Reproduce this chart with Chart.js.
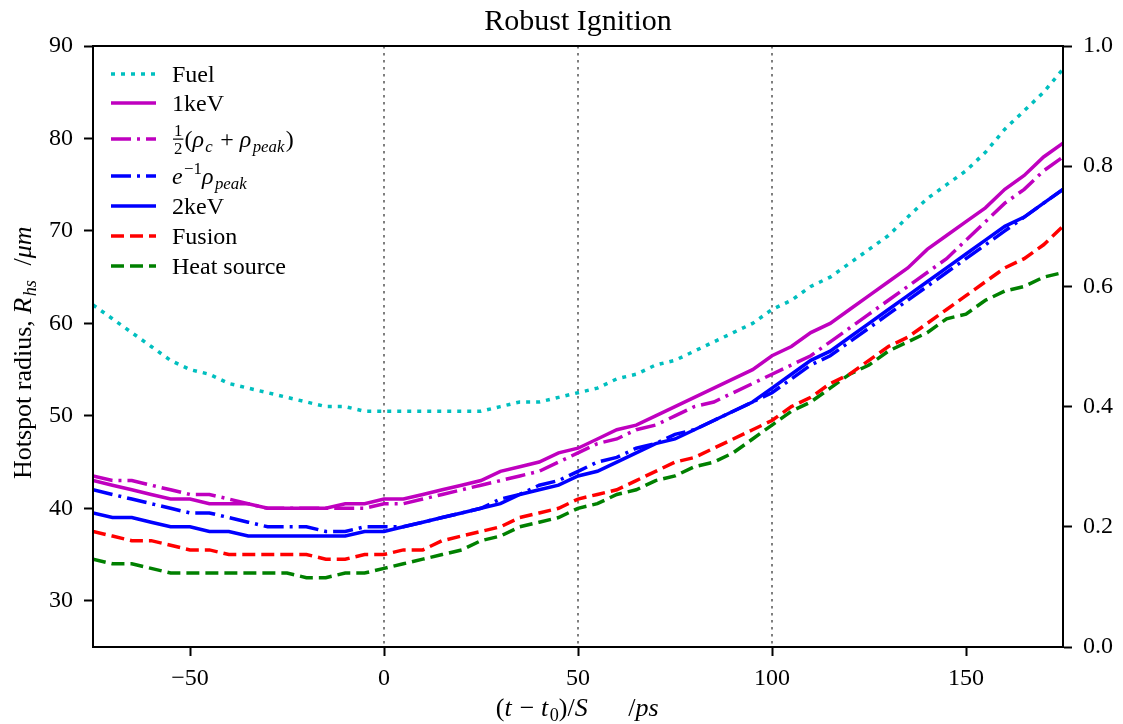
<!DOCTYPE html>
<html>
<head>
<meta charset="utf-8">
<script src="https://cdn.jsdelivr.net/npm/chart.js@4.4.1/dist/chart.umd.min.js"></script>
<style>
  html, body { margin: 0; padding: 0; background: #fff; }
  canvas { display: block; }
</style>
</head>
<body>
<canvas id="chart" width="1123" height="724"></canvas>
<script>
// time axis, (t - t0)/S in ps
const times = [-75, -70, -65, -60, -55, -50, -45, -40, -35, -30, -25, -20, -15, -10, -5,
  0, 5, 10, 15, 20, 25, 30, 35, 40, 45, 50, 55, 60, 65, 70, 75, 80, 85, 90, 95,
  100, 105, 110, 115, 120, 125, 130, 135, 140, 145, 150, 155, 160, 165, 170, 175];

const fuel = [62, 60.5, 59, 57.5, 56, 55, 54.5, 53.5, 53, 52.5, 52, 51.5, 51, 51, 50.5,
  50.5, 50.5, 50.5, 50.5, 50.5, 50.5, 51, 51.5, 51.5, 52, 52.5, 53, 54, 54.5, 55.5, 56, 57, 58, 59, 60,
  61.5, 62.5, 64, 65, 66.5, 68, 69.5, 71.5, 73.5, 75, 76.5, 78.5, 81, 83, 85, 87.5];

const keV1 = [43, 42.5, 42, 41.5, 41, 41, 40.5, 40.5, 40.5, 40, 40, 40, 40, 40.5, 40.5,
  41, 41, 41.5, 42, 42.5, 43, 44, 44.5, 45, 46, 46.5, 47.5, 48.5, 49, 50, 51, 52, 53, 54, 55,
  56.5, 57.5, 59, 60, 61.5, 63, 64.5, 66, 68, 69.5, 71, 72.5, 74.5, 76, 78, 79.5];

const halfRho = [43.5, 43, 43, 42.5, 42, 41.5, 41.5, 41, 40.5, 40, 40, 40, 40, 40, 40,
  40.5, 40.5, 41, 41.5, 42, 42.5, 43, 43.5, 44, 45, 46, 47, 47.5, 48.5, 49, 50, 51, 51.5, 52.5, 53.5,
  54.5, 55.5, 56.5, 58, 59.5, 61, 62.5, 64, 65.5, 67, 69, 71, 73, 74.5, 76.5, 78];

const eRho = [42, 41.5, 41, 40.5, 40, 39.5, 39.5, 39, 38.5, 38, 38, 38, 37.5, 37.5, 38,
  38, 38, 38.5, 39, 39.5, 40, 41, 41.5, 42.5, 43, 44, 45, 45.5, 46.5, 47, 48, 48.5, 49.5, 50.5, 51.5,
  52.5, 54, 55.5, 56.5, 58, 59.5, 61, 62.5, 64, 65.5, 67, 68.5, 70, 71.5, 73, 74.5];

const keV2 = [39.5, 39, 39, 38.5, 38, 38, 37.5, 37.5, 37, 37, 37, 37, 37, 37, 37.5,
  37.5, 38, 38.5, 39, 39.5, 40, 40.5, 41.5, 42, 42.5, 43.5, 44, 45, 46, 47, 47.5, 48.5, 49.5, 50.5, 51.5,
  53, 54.5, 56, 57, 58.5, 60, 61.5, 63, 64.5, 66, 67.5, 69, 70.5, 71.5, 73, 74.5];

const fusion = [37.5, 37, 36.5, 36.5, 36, 35.5, 35.5, 35, 35, 35, 35, 35, 34.5, 34.5, 35,
  35, 35.5, 35.5, 36.5, 37, 37.5, 38, 39, 39.5, 40, 41, 41.5, 42, 43, 44, 45, 45.5, 46.5, 47.5, 48.5,
  49.5, 51, 52, 53.5, 54.5, 56, 57.5, 58.5, 60, 61.5, 63, 64.5, 66, 67, 68.5, 70.5];

const heatSource = [34.5, 34, 34, 33.5, 33, 33, 33, 33, 33, 33, 33, 32.5, 32.5, 33, 33,
  33.5, 34, 34.5, 35, 35.5, 36.5, 37, 38, 38.5, 39, 40, 40.5, 41.5, 42, 43, 43.5, 44.5, 45, 46, 47.5,
  49, 50.5, 51.5, 53, 54.5, 55.5, 57, 58, 59, 60.5, 61, 62.5, 63.5, 64, 65, 65.5];

const xTicks = [-50, 0, 50, 100, 150];
const yTicks = [30, 40, 50, 60, 70, 80, 90];
const y2Ticks = [0, 0.2, 0.4, 0.6, 0.8, 1.0];
const markerTimes = [0, 50, 100];

const SERIF = '"Liberation Serif", "DejaVu Serif", serif';
const DOT = [4, 6];
const DASH = [13, 6];
const DASHDOT = [20, 6, 3, 6];

// legend labels as rich-text runs (i = italic, sub/sup = shifted)
const legendItems = [
  { runs: [{ t: 'Fuel' }], color: '#00bfbf', dash: DOT, y: 74 },
  { runs: [{ t: '1keV' }], color: '#bf00bf', dash: [], y: 103 },
  { runs: [{ frac: ['1', '2'] }, { t: '(' }, { t: 'ρ', i: 1 }, { t: 'c', i: 1, sub: 1 }, { t: ' + ' },
           { t: 'ρ', i: 1 }, { t: 'peak', i: 1, sub: 1 }, { t: ')' }], color: '#bf00bf', dash: DASHDOT, y: 139 },
  { runs: [{ t: 'e', i: 1 }, { t: '−1', sup: 1 }, { t: 'ρ', i: 1 }, { t: 'peak', i: 1, sub: 1 }],
    color: '#0000ff', dash: DASHDOT, y: 176 },
  { runs: [{ t: '2keV' }], color: '#0000ff', dash: [], y: 206 },
  { runs: [{ t: 'Fusion' }], color: '#ff0000', dash: DASH, y: 236 },
  { runs: [{ t: 'Heat source' }], color: '#008000', dash: DASH, y: 266 }
];

function runFont(r, size) {
  const s = (r.sub || r.sup) ? size * 0.7 : size;
  return (r.i ? 'italic ' : '') + s + 'px ' + SERIF;
}

function runWidth(ctx, r, size) {
  if (r.frac) {
    ctx.font = (size * 0.7) + 'px ' + SERIF;
    return Math.max(ctx.measureText(r.frac[0]).width, ctx.measureText(r.frac[1]).width) + 4;
  }
  ctx.font = runFont(r, size);
  return ctx.measureText(r.t).width + (r.i ? size * 0.06 : 0);
}

// draws runs with the middle of the text at y, starting at x
function drawRich(ctx, runs, x, y, size, align) {
  let total = 0;
  runs.forEach(r => { total += runWidth(ctx, r, size); });
  if (align === 'center') x -= total / 2;
  ctx.textBaseline = 'alphabetic';
  ctx.textAlign = 'left';
  const base = y + size * 0.33;
  runs.forEach(r => {
    const w = runWidth(ctx, r, size);
    if (r.frac) {
      ctx.font = (size * 0.7) + 'px ' + SERIF;
      ctx.textAlign = 'center';
      ctx.fillText(r.frac[0], x + w / 2, y - size * 0.12);
      ctx.fillText(r.frac[1], x + w / 2, y + size * 0.62);
      ctx.fillRect(x + 1, y - size * 0.02, w - 2, 1.2);
      ctx.textAlign = 'left';
    } else {
      ctx.font = runFont(r, size);
      let by = base;
      if (r.sub) by += size * 0.2;
      if (r.sup) by -= size * 0.4;
      ctx.fillText(r.t, x, by);
    }
    x += w;
  });
}

const decorPlugin = {
  id: 'decor',
  beforeDatasetsDraw(chart) {
    const { ctx, chartArea, scales } = chart;
    ctx.save();
    ctx.strokeStyle = '#7f7f7f';
    ctx.lineWidth = 2;
    ctx.setLineDash([2.5, 4.5]);
    markerTimes.forEach(t => {
      const px = Math.round(scales.x.getPixelForValue(t));
      ctx.beginPath();
      ctx.moveTo(px, chartArea.top);
      ctx.lineTo(px, chartArea.bottom);
      ctx.stroke();
    });
    ctx.restore();
  },
  afterDraw(chart) {
    const { ctx, chartArea } = chart;
    ctx.save();
    // frame
    ctx.strokeStyle = '#000';
    ctx.lineWidth = 2;
    ctx.setLineDash([]);
    ctx.strokeRect(chartArea.left, chartArea.top, chartArea.right - chartArea.left, chartArea.bottom - chartArea.top);

    ctx.fillStyle = '#000';
    // title
    ctx.font = '30px ' + SERIF;
    ctx.textAlign = 'center';
    ctx.textBaseline = 'middle';
    ctx.fillText('Robust Ignition', (chartArea.left + chartArea.right) / 2, 22);

    // x axis title
    drawRich(ctx, [{ t: '(' }, { t: 't', i: 1 }, { t: ' − ' }, { t: 't', i: 1 }, { t: '0', sub: 1 },
      { t: ')/' }, { t: 'S', i: 1 }, { t: '      /' }, { t: 'ps', i: 1 }],
      (chartArea.left + chartArea.right) / 2, 707, 26, 'center');

    // y axis title
    ctx.save();
    ctx.translate(22, 352);
    ctx.rotate(-Math.PI / 2);
    drawRich(ctx, [{ t: 'Hotspot radius, ' }, { t: 'R', i: 1 }, { t: 'hs', i: 1, sub: 1 },
      { t: '  /' }, { t: 'μm', i: 1 }], 0, 0, 26, 'center');
    ctx.restore();

    // legend
    legendItems.forEach(item => {
      ctx.strokeStyle = item.color;
      ctx.lineWidth = 3.5;
      ctx.setLineDash(item.dash);
      ctx.beginPath();
      ctx.moveTo(111, item.y);
      ctx.lineTo(156, item.y);
      ctx.stroke();
      ctx.fillStyle = '#000';
      drawRich(ctx, item.runs, 172, item.y, 24, 'left');
    });
    ctx.restore();
  }
};

function series(values, color, dash) {
  return {
    data: times.map((t, i) => ({ x: t, y: values[i] })),
    borderColor: color,
    borderWidth: 3.5,
    borderDash: dash,
    borderCapStyle: 'butt',
    pointRadius: 0,
    tension: 0,
    fill: false,
    yAxisID: 'y'
  };
}

const tickFont = { family: SERIF, size: 24 };
const axisGrid = { drawOnChartArea: false, drawTicks: true, tickLength: 9, tickColor: '#000', tickWidth: 2 };
const axisBorder = { display: true, color: '#000', width: 2 };

new Chart(document.getElementById('chart').getContext('2d'), {
  type: 'line',
  data: {
    datasets: [
      series(fuel, '#00bfbf', DOT),
      series(keV1, '#bf00bf', []),
      series(halfRho, '#bf00bf', DASHDOT),
      series(eRho, '#0000ff', DASHDOT),
      series(keV2, '#0000ff', []),
      series(fusion, '#ff0000', DASH),
      series(heatSource, '#008000', DASH)
    ]
  },
  options: {
    responsive: false,
    animation: false,
    devicePixelRatio: 1,
    layout: { padding: { top: 46, left: 0, right: 0, bottom: 0 } },
    plugins: { legend: { display: false }, tooltip: { enabled: false }, title: { display: false } },
    scales: {
      x: {
        type: 'linear',
        min: -75,
        max: 175,
        grid: axisGrid,
        border: axisBorder,
        afterBuildTicks: s => { s.ticks = xTicks.map(v => ({ value: v })); },
        afterFit: s => { s.height = 77; },
        ticks: {
          color: '#000',
          font: tickFont,
          padding: 8,
          maxRotation: 0,
          callback: v => String(v).replace('-', '−')
        }
      },
      y: {
        type: 'linear',
        position: 'left',
        min: 25,
        max: 90,
        grid: axisGrid,
        border: axisBorder,
        afterBuildTicks: s => { s.ticks = yTicks.map(v => ({ value: v })); },
        afterFit: s => { s.width = 93; },
        ticks: { color: '#000', font: tickFont, padding: 11 }
      },
      y1: {
        type: 'linear',
        position: 'right',
        min: 0,
        max: 1,
        grid: axisGrid,
        border: axisBorder,
        afterBuildTicks: s => { s.ticks = y2Ticks.map(v => ({ value: v })); },
        afterFit: s => { s.width = 60; },
        ticks: { color: '#000', font: tickFont, padding: 11, callback: v => Number(v).toFixed(1) }
      }
    }
  },
  plugins: [decorPlugin]
});
</script>
</body>
</html>
